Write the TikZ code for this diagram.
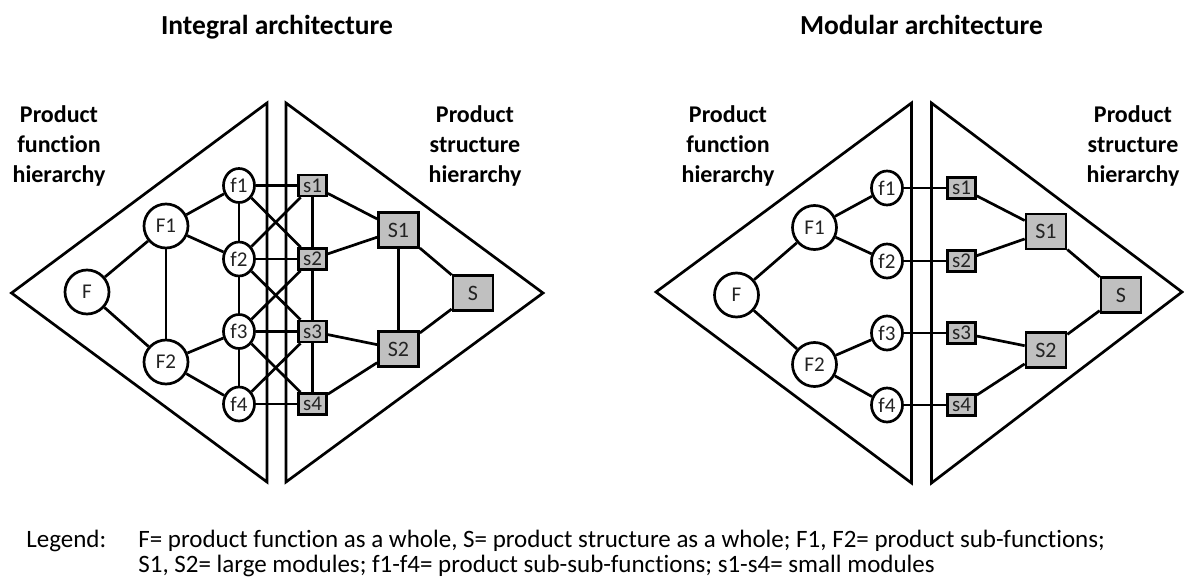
\documentclass[tikz,border=0pt]{standalone}
\usepackage{fontspec}
\setmainfont{Carlito}[Ligatures=CommonOff]
\usetikzlibrary{shapes.geometric}
\definecolor{boxgray}{RGB}{192,192,192}
\definecolor{inktext}{RGB}{35,35,35}
\begin{document}
\begin{tikzpicture}[x=1pt,y=-1pt,line width=2.7pt,
  bigfun/.style={circle,draw,fill=white,minimum size=44pt,inner sep=0pt,
    text=inktext,font=\fontsize{21}{21}\selectfont},
  subfun/.style={ellipse,draw,fill=white,minimum width=31pt,minimum height=34pt,
    inner sep=0pt,text=inktext,font=\fontsize{21}{21}\selectfont},
  smallmod/.style={rectangle,draw,fill=boxgray,minimum width=28pt,minimum height=21pt,
    inner sep=0pt,text=inktext,font=\fontsize{21}{21}\selectfont},
  bigmod/.style={rectangle,draw,fill=boxgray,minimum width=40pt,minimum height=35pt,
    inner sep=0pt,text=inktext,font=\fontsize{22}{22}\selectfont},
  heading/.style={align=center,inner sep=0pt,font=\bfseries\fontsize{24}{30}\selectfont},
  titletext/.style={anchor=base,inner sep=0pt,font=\bfseries\fontsize{27.5}{30}\selectfont},
  legendtext/.style={anchor=base west,inner sep=0pt,font=\fontsize{25}{27}\selectfont}
]
\useasboundingbox (0,0) rectangle (1184,578);

% ---------------- Integral architecture ----------------
\node[titletext] (ititle) at (277,34.5) {Integral architecture};
\draw (11.5,293) -- (267,103) -- (267,482) -- cycle;
\draw (286,103) -- (543,293) -- (286,482) -- cycle;
\node[heading] (ifunlab) at (59,146) {Product\\function\\hierarchy};
\node[heading] (istrlab) at (475,146) {Product\\structure\\hierarchy};

\node[bigfun] (iF)  at (87,292)  {F};
\node[bigfun] (iF1) at (166,226) {F1};
\node[bigfun] (iF2) at (166,362) {F2};
\node[subfun] (if1) at (239,185.5) {f1};
\node[subfun] (if2) at (239,259)   {f2};
\node[subfun] (if3) at (239,331.5) {f3};
\node[subfun] (if4) at (239,404)   {f4};
\node[smallmod] (is1) at (312.5,185.5) {s1};
\node[smallmod] (is2) at (312.5,259)   {s2};
\node[smallmod] (is3) at (312.5,331.5) {s3};
\node[smallmod] (is4) at (312.5,404)   {s4};
\node[bigmod] (iS1) at (398.5,230) {S1};
\node[bigmod] (iS2) at (398.5,349) {S2};
\node[bigmod] (iS)  at (473,293)   {S};

\draw (iF) -- (iF1);  \draw (iF) -- (iF2);  \draw (iF1) -- (iF2);
\draw (iF1) -- (if1); \draw (iF1) -- (if2);
\draw (iF2) -- (if3); \draw (iF2) -- (if4);
\draw (if1) -- (if2); \draw (if2) -- (if3); \draw (if3) -- (if4);
\foreach \k in {1,2,3,4} { \draw (if\k) -- (is\k); }
\draw (if1) -- (is2); \draw (if2) -- (is1);
\draw (if2) -- (is3); \draw (if3) -- (is2);
\draw (if3) -- (is4); \draw (if4) -- (is3);
\draw (is1) -- (is2); \draw (is2) -- (is3); \draw (is3) -- (is4);
\draw (is1) -- (iS1); \draw (is2) -- (iS1);
\draw (is3) -- (iS2); \draw (is4) -- (iS2);
\draw (iS1) -- (iS2);
\draw (iS1) -- (iS);  \draw (iS2) -- (iS);

% ---------------- Modular architecture ----------------
\node[titletext] (mtitle) at (921.5,34.5) {Modular architecture};
\draw (656,292) -- (911.5,103) -- (911.5,483) -- cycle;
\draw (931.5,103) -- (1182,292) -- (931.5,483) -- cycle;
\node[heading] (mfunlab) at (728,146)  {Product\\function\\hierarchy};
\node[heading] (mstrlab) at (1133,146) {Product\\structure\\hierarchy};

\node[bigfun] (mF)  at (736.5,295) {F};
\node[bigfun] (mF1) at (814.5,227.5) {F1};
\node[bigfun] (mF2) at (814.5,364.5) {F2};
\node[subfun] (mf1) at (887,188)   {f1};
\node[subfun] (mf2) at (887,261)   {f2};
\node[subfun] (mf3) at (887,333)   {f3};
\node[subfun] (mf4) at (887,405)   {f4};
\node[smallmod] (ms1) at (961.5,188) {s1};
\node[smallmod] (ms2) at (961.5,261) {s2};
\node[smallmod] (ms3) at (961.5,333) {s3};
\node[smallmod] (ms4) at (961.5,405) {s4};
\node[bigmod] (mS1) at (1046,231.5) {S1};
\node[bigmod] (mS2) at (1046,350)   {S2};
\node[bigmod] (mS)  at (1121,295)   {S};

\draw (mF) -- (mF1);  \draw (mF) -- (mF2);
\draw (mF1) -- (mf1); \draw (mF1) -- (mf2);
\draw (mF2) -- (mf3); \draw (mF2) -- (mf4);
\foreach \k in {1,2,3,4} { \draw (mf\k) -- (ms\k); }
\draw (ms1) -- (mS1); \draw (ms2) -- (mS1);
\draw (ms3) -- (mS2); \draw (ms4) -- (mS2);
\draw (mS1) -- (mS);  \draw (mS2) -- (mS);

% ---------------- Legend ----------------
\node[legendtext] (leghead) at (25,547) {Legend:};
\node[legendtext] (legone) at (137,547) {F= product function as a whole, S= product structure as a whole; F1, F2= product sub-functions;};
\node[legendtext] (legtwo) at (137,572) {S1, S2= large modules; f1-f4= product sub-sub-functions; s1-s4= small modules};
\end{tikzpicture}
\end{document}
